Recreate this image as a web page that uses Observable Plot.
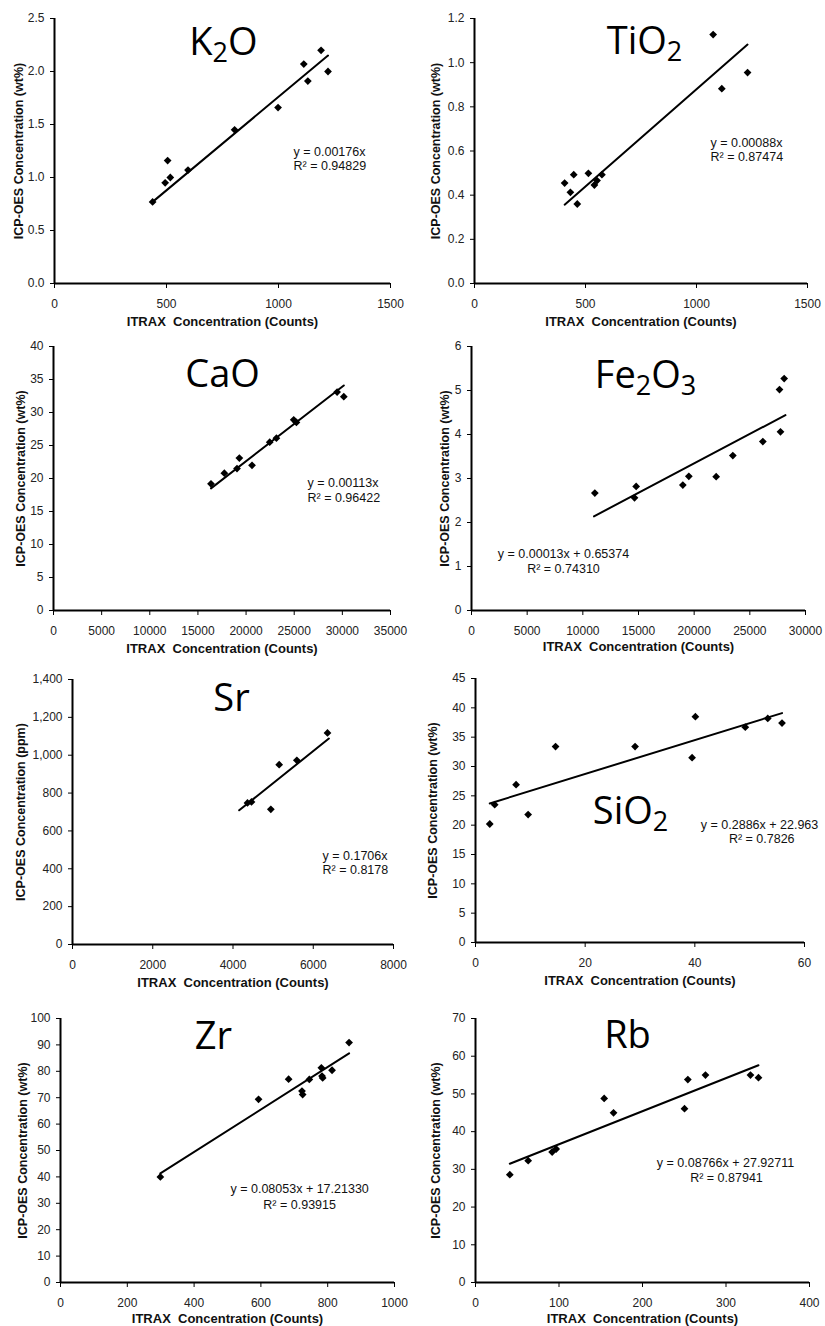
<!DOCTYPE html>
<html><head><meta charset="utf-8">
<script src="https://cdn.jsdelivr.net/npm/d3@7"></script>
<script src="https://cdn.jsdelivr.net/npm/@observablehq/plot@0.6"></script>
<style>
html,body{margin:0;padding:0;background:#fff;}
#wrap{position:relative;width:825px;height:1326px;overflow:hidden;background:#fff;}
#wrap svg{position:absolute;}
svg text{white-space:pre;}
</style></head><body><div id="wrap"></div>
<script>
// ---------- data ----------
const k2oX = [438, 505, 494, 517, 596, 804, 998, 1113, 1131, 1190, 1221];
const k2oY = [0.77, 1.16, 0.95, 1.00, 1.07, 1.45, 1.66, 2.07, 1.91, 2.20, 2.00];
const k2oFitX = [438, 1221];
const k2oFitY = [0.77, 2.15];

const tio2X = [406, 447, 432, 463, 513, 540, 552, 574, 1075, 1114, 1230];
const tio2Y = [0.455, 0.493, 0.413, 0.360, 0.499, 0.446, 0.466, 0.493, 1.127, 0.882, 0.955];
const tio2FitX = [406, 1230];
const tio2FitY = [0.357, 1.082];

const caoX = [16356, 17743, 19059, 19302, 20619, 22455, 23149, 24950, 25228, 29455, 30149];
const caoY = [19.2, 20.8, 21.5, 23.1, 22.0, 25.5, 26.1, 28.9, 28.5, 33.1, 32.4];
const caoFitX = [16356, 30149];
const caoFitY = [18.5, 34.1];

const fe2o3X = [11078, 14641, 14790, 18982, 19521, 21976, 23473, 26168, 27665, 27754, 28084];
const fe2o3Y = [2.67, 2.56, 2.82, 2.85, 3.05, 3.04, 3.52, 3.84, 5.02, 4.06, 5.27];
const fe2o3FitX = [11000, 28200];
const fe2o3FitY = [2.14, 4.44];

const srX = [4361, 4461, 4943, 5151, 5591, 6355];
const srY = [748, 753, 714, 950, 973, 1118];
const srFitX = [4154, 6390];
const srFitY = [709, 1088];

const sio2X = [2.6, 3.5, 7.4, 9.6, 14.6, 29.1, 39.5, 40.1, 49.2, 53.3, 55.9];
const sio2Y = [20.2, 23.5, 26.9, 21.8, 33.4, 33.4, 31.5, 38.5, 36.7, 38.2, 37.4];
const sio2FitX = [2.6, 55.9];
const sio2FitY = [23.7, 39.1];

const zrX = [299, 593, 683, 723, 725, 745, 781, 783, 785, 813, 864];
const zrY = [40.0, 69.4, 77.0, 72.5, 71.2, 76.9, 81.3, 78.2, 77.5, 80.4, 90.9];
const zrFitX = [299, 864];
const zrFitY = [41.3, 86.8];

const rbX = [41.1, 63.1, 91.8, 96.6, 154.1, 165.3, 250.3, 254.3, 275.4, 329.3, 338.9];
const rbY = [28.6, 32.3, 34.6, 35.4, 48.8, 45.0, 46.1, 53.8, 55.0, 55.0, 54.3];
const rbFitX = [41.1, 338.9];
const rbFitY = [31.5, 57.6];

// tick labels
const ticks1500 = [0, 500, 1000, 1500];
const ticks35000 = [0, 5000, 10000, 15000, 20000, 25000, 30000, 35000];
const ticks30000 = [0, 5000, 10000, 15000, 20000, 25000, 30000];
const ticks8000 = [0, 2000, 4000, 6000, 8000];
const ticks60 = [0, 20, 40, 60];
const ticks1000 = [0, 200, 400, 600, 800, 1000];
const ticks400 = [0, 100, 200, 300, 400];
const yTicksK2O = [0, 0.5, 1.0, 1.5, 2.0, 2.5];
const yTicksTiO2 = [0, 0.2, 0.4, 0.6, 0.8, 1.0, 1.2];
const yTicksCaO = [0, 5, 10, 15, 20, 25, 30, 35, 40];
const yTicksFe = [0, 1, 2, 3, 4, 5, 6];
const yTicksSr = [0, 200, 400, 600, 800, 1000, 1200, 1400];
const yTicksSiO2 = [0, 5, 10, 15, 20, 25, 30, 35, 40, 45];
const yTicksZr = [0, 10, 20, 30, 40, 50, 60, 70, 80, 90, 100];
const yTicksRb = [0, 10, 20, 30, 40, 50, 60, 70];

const titles = ["K2O", "TiO2", "CaO", "Fe2O3", "Sr", "SiO2", "Zr", "Rb"];
const equations = [
  ["y = 0.00176x", "R² = 0.94829"],
  ["y = 0.00088x", "R² = 0.87474"],
  ["y = 0.00113x", "R² = 0.96422"],
  ["y = 0.00013x + 0.65374", "R² = 0.74310"],
  ["y = 0.1706x", "R² = 0.8178"],
  ["y = 0.2886x + 22.963", "R² = 0.7826"],
  ["y = 0.08053x + 17.21330", "R² = 0.93915"],
  ["y = 0.08766x + 27.92711", "R² = 0.87941"]
];
const xLabel = "ITRAX  Concentration (Counts)";
const yLabelWt = "ICP-OES Concentration (wt%)";
const yLabelPpm = "ICP-OES Concentration (ppm)";

// ---------- panel settings ----------
const fmt1 = d3.format(".1f"), fmtInt = d3.format("d"), fmtComma = d3.format(",");
const panels = [
  {X: k2oX, Y: k2oY, FX: k2oFitX, FY: k2oFitY, title: titles[0], eq: equations[0],
   xt: ticks1500, yt: yTicksK2O, yf: fmt1, yl: yLabelWt,
   titlePos: [754, 2.16], eqPos: [[1067, 1.236], [1067, 1.104]], eqAnchor: "start",
   box: [0, 0, 412, 325], m: [18, 22, 42, 54], ylDx: -36, xlDy: 38},
  {X: tio2X, Y: tio2Y, FX: tio2FitX, FY: tio2FitY, title: titles[1], eq: equations[1],
   xt: ticks1500, yt: yTicksTiO2, yf: fmt1, yl: yLabelWt,
   titlePos: [766, 1.037], eqPos: [[1063, 0.634], [1063, 0.571]], eqAnchor: "start",
   box: [412, 0, 413, 325], m: [18, 18, 42, 62], ylDx: -39, xlDy: 38},
  {X: caoX, Y: caoY, FX: caoFitX, FY: caoFitY, title: titles[2], eq: equations[2],
   xt: ticks35000, yt: yTicksCaO, yf: fmtInt, yl: yLabelWt,
   titlePos: [17552, 33.79], eqPos: [[26380, 19.39], [26380, 17.12]], eqAnchor: "start",
   box: [0, 325, 412, 325], m: [21, 22, 40, 53], ylDx: -33, xlDy: 38},
  {X: fe2o3X, Y: fe2o3Y, FX: fe2o3FitX, FY: fe2o3FitY, title: titles[3], eq: equations[3],
   xt: ticks30000, yt: yTicksFe, yf: fmtInt, yl: yLabelWt,
   titlePos: [15629, 5.068], eqPos: [[8263, 1.273], [8263, 0.932]], eqAnchor: "middle",
   box: [412, 325, 413, 325], m: [21, 20, 40, 59], ylDx: -27, xlDy: 36},
  {X: srX, Y: srY, FX: srFitX, FY: srFitY, title: titles[4], eq: equations[4],
   xt: ticks8000, yt: yTicksSr, yf: fmtComma, yl: yLabelPpm,
   titlePos: [3963, 1231], eqPos: [[6231, 470], [6231, 391]], eqAnchor: "start",
   box: [0, 650, 412, 335], m: [29, 19, 41, 72], ylDx: -52, xlDy: 38},
  {X: sio2X, Y: sio2Y, FX: sio2FitX, FY: sio2FitY, title: titles[5], eq: equations[5],
   xt: ticks60, yt: yTicksSiO2, yf: fmtInt, yl: yLabelWt,
   titlePos: [28.27, 20.28], eqPos: [[51.8, 20.11], [52.2, 17.56]], eqAnchor: "middle",
   box: [412, 650, 413, 335], m: [28, 21, 43, 63], ylDx: -43, xlDy: 38},
  {X: zrX, Y: zrY, FX: zrFitX, FY: zrFitY, title: titles[6], eq: equations[6],
   xt: ticks1000, yt: yTicksZr, yf: fmtInt, yl: yLabelWt,
   titlePos: [458, 88.26], eqPos: [[716, 35.6], [716, 29.5]], eqAnchor: "middle",
   box: [0, 985, 412, 341], m: [33, 18, 44, 60], ylDx: -38, xlDy: 36},
  {X: rbX, Y: rbY, FX: rbFitX, FY: rbFitY, title: titles[7], eq: equations[7],
   xt: ticks400, yt: yTicksRb, yf: fmtInt, yl: yLabelWt,
   titlePos: [182, 62.05], eqPos: [[299.4, 31.8], [300.6, 27.8]], eqAnchor: "middle",
   box: [412, 985, 413, 341], m: [33, 16, 44, 63], ylDx: -40, xlDy: 36}
];

const wrap = document.getElementById("wrap");
const FONT = "'Liberation Sans', Arial, sans-serif";

for (const p of panels) {
  const pts = p.X.map((x, i) => ({x, y: p.Y[i]}));
  const fit = p.FX.map((x, i) => ({x, y: p.FY[i]}));
  const eqRows = p.eq.map((t, i) => ({t, x: p.eqPos[i][0], y: p.eqPos[i][1]}));
  const [left, top, w, h] = p.box;
  const [mt, mr, mb, ml] = p.m;
  const svg = Plot.plot({
    width: w, height: h,
    marginTop: mt, marginRight: mr, marginBottom: mb, marginLeft: ml,
    style: {fontFamily: FONT, fontSize: "12px", color: "#000", background: "transparent", overflow: "visible"},
    x: {domain: [0, p.xt[p.xt.length - 1]]},
    y: {domain: [0, p.yt[p.yt.length - 1]]},
    marks: [
      Plot.axisX({ticks: p.xt, tickFormat: fmtInt, tickSize: 5, tickPadding: 11, label: null, fontSize: 12, fill: "#222", stroke: "#000"}),
      Plot.axisY({ticks: p.yt, tickFormat: p.yf, tickSize: 4, tickPadding: 6, label: null, fontSize: 12, fill: "#222", stroke: "#000"}),
      Plot.ruleY([0], {stroke: "#000", strokeWidth: 2}),
      Plot.ruleX([0], {stroke: "#000", strokeWidth: 2}),
      Plot.line(fit, {x: "x", y: "y", stroke: "#000", strokeWidth: 2}),
      Plot.dot(pts, {x: "x", y: "y", symbol: "diamond2", r: 3.5, fill: "#000", stroke: "none"}),
      Plot.text([p.title], {x: () => p.titlePos[0], y: () => p.titlePos[1], text: d => d,
        fontFamily: "'Open Sans', 'Noto Sans', sans-serif", fontSize: 38, fill: "#000",
        textAnchor: "middle", lineAnchor: "bottom"}),
      Plot.text(eqRows, {x: "x", y: "y", text: "t", textAnchor: p.eqAnchor, lineAnchor: "middle",
        fontSize: 12.5, fill: "#111"}),
      Plot.text([xLabel], {text: d => d, frameAnchor: "bottom", dy: p.xlDy, lineAnchor: "middle", textAnchor: "middle",
        fontSize: 13, fontWeight: "bold", fill: "#111"}),
      Plot.text([p.yl], {text: d => d, frameAnchor: "left", rotate: -90, dx: p.ylDx, lineAnchor: "middle", textAnchor: "middle",
        fontSize: 12.5, fontWeight: "bold", fill: "#111"})
    ]
  });
  svg.style.left = left + "px";
  svg.style.top = top + "px";
  // render digits in chemical formulas as subscripts
  d3.select(svg).selectAll("text").filter(function () { return this.textContent === p.title; }).each(function () {
    const t = this.textContent;
    while (this.firstChild) this.removeChild(this.firstChild);
    const parts = t.split(/(\d+)/).filter(s => s.length);
    let shifted = false;
    for (const part of parts) {
      const ts = document.createElementNS("http://www.w3.org/2000/svg", "tspan");
      ts.textContent = part;
      if (/^\d+$/.test(part)) {
        ts.setAttribute("font-size", "27");
        ts.setAttribute("dy", "7");
        shifted = true;
      } else if (shifted) {
        ts.setAttribute("dy", "-7");
        shifted = false;
      }
      this.appendChild(ts);
    }
  });
  wrap.appendChild(svg);
}
</script></body></html>
